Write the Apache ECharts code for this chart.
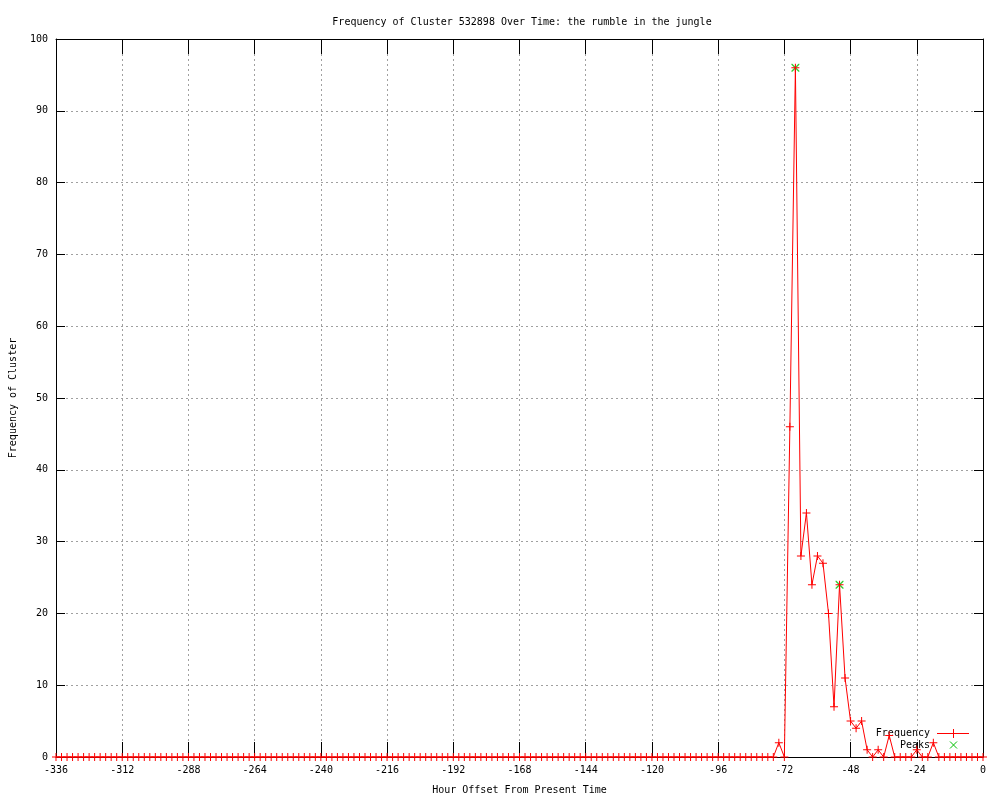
<!DOCTYPE html>
<html>
<head>
<meta charset="utf-8">
<script src="https://cdn.jsdelivr.net/npm/echarts@6/dist/echarts.min.js"></script>
<style>html,body{margin:0;padding:0;background:#fff}#c{width:1000px;height:800px}</style>
</head>
<body>
<div id="c"></div>
<script>
const hours = [
  -336,-334,-332,-330,-328,-326,-324,-322,-320,-318,-316,-314,-312,-310,-308,-306,-304,-302,-300,-298,
  -296,-294,-292,-290,-288,-286,-284,-282,-280,-278,-276,-274,-272,-270,-268,-266,-264,-262,-260,-258,
  -256,-254,-252,-250,-248,-246,-244,-242,-240,-238,-236,-234,-232,-230,-228,-226,-224,-222,-220,-218,
  -216,-214,-212,-210,-208,-206,-204,-202,-200,-198,-196,-194,-192,-190,-188,-186,-184,-182,-180,-178,
  -176,-174,-172,-170,-168,-166,-164,-162,-160,-158,-156,-154,-152,-150,-148,-146,-144,-142,-140,-138,
  -136,-134,-132,-130,-128,-126,-124,-122,-120,-118,-116,-114,-112,-110,-108,-106,-104,-102,-100,-98,
  -96,-94,-92,-90,-88,-86,-84,-82,-80,-78,-76,-74,-72,-70,-68,-66,-64,-62,-60,-58,
  -56,-54,-52,-50,-48,-46,-44,-42,-40,-38,-36,-34,-32,-30,-28,-26,-24,-22,-20,-18,
  -16,-14,-12,-10,-8,-6,-4,-2,0
];
const frequency = [
  0,0,0,0,0,0,0,0,0,0,0,0,0,0,0,0,0,0,0,0,
  0,0,0,0,0,0,0,0,0,0,0,0,0,0,0,0,0,0,0,0,
  0,0,0,0,0,0,0,0,0,0,0,0,0,0,0,0,0,0,0,0,
  0,0,0,0,0,0,0,0,0,0,0,0,0,0,0,0,0,0,0,0,
  0,0,0,0,0,0,0,0,0,0,0,0,0,0,0,0,0,0,0,0,
  0,0,0,0,0,0,0,0,0,0,0,0,0,0,0,0,0,0,0,0,
  0,0,0,0,0,0,0,0,0,0,0,2,0,46,96,28,34,24,28,27,
  20,7,24,11,5,4,5,1,0,1,0,3,0,0,0,0,1,0,0,2,
  0,0,0,0,0,0,0,0,0
];
const peakHours = [-68, -52];
const peakValues = [96, 24];
const xTicks = [-336,-312,-288,-264,-240,-216,-192,-168,-144,-120,-96,-72,-48,-24,0];
const yTicks = [0,10,20,30,40,50,60,70,80,90,100];

const freqData = hours.map((h, i) => [h, frequency[i]]);
const peakData = peakHours.map((h, i) => [h, peakValues[i]]);

const FONT = 'DejaVu Sans Mono';
const plusPath = 'path://M0,3.5H8V4.5H0Z M3.5,0H4.5V8H3.5Z';
const xPath = 'path://M0,0L1,0L8,7L8,8L7,8L0,1Z M7,0L8,0L8,1L1,8L0,8L0,7Z';
const GREEN = '#00c000';

const chart = echarts.init(document.getElementById('c'), null, {renderer: 'canvas'});
const axisLineStyle = {show: true, onZero: false, lineStyle: {color: '#000', width: 1}};
const xTickStyle = {show: true, inside: true, length: 15, lineStyle: {color: '#000'}};
const yTickStyle = {show: true, inside: true, length: 9, lineStyle: {color: '#000'}};
const gridLine = {show: true, lineStyle: {color: '#a0a0a0', type: [2, 3], width: 1}};
const labelStyle = {fontFamily: FONT, fontSize: 10, color: '#000', margin: 8};
const nameStyle = {fontFamily: FONT, fontSize: 10, color: '#000'};

chart.setOption({
  animation: false,
  backgroundColor: '#fff',
  title: {
    text: 'Frequency of Cluster 532898 Over Time: the rumble in the jungle',
    left: 517, top: 12, textAlign: 'center',
    textStyle: {fontFamily: FONT, fontSize: 10, fontWeight: 'normal', color: '#000'}
  },
  grid: {left: 55, right: 17, top: 39, bottom: 40},
  xAxis: [{
    type: 'value', min: xTicks[0], max: xTicks[xTicks.length - 1], interval: 24,
    position: 'bottom',
    name: 'Hour Offset From Present Time', nameLocation: 'middle', nameGap: 28,
    nameTextStyle: nameStyle,
    axisLine: axisLineStyle, axisTick: xTickStyle,
    axisLabel: labelStyle,
    splitLine: gridLine
  }, {
    type: 'value', min: xTicks[0], max: xTicks[xTicks.length - 1], interval: 24,
    position: 'top',
    axisLine: axisLineStyle, axisTick: xTickStyle,
    axisLabel: {show: false}, splitLine: {show: false}
  }],
  yAxis: [{
    type: 'value', min: yTicks[0], max: yTicks[yTicks.length - 1], interval: 10,
    position: 'left',
    name: 'Frequency of Cluster', nameLocation: 'middle', nameGap: 38, nameRotate: 90,
    nameTextStyle: nameStyle,
    axisLine: axisLineStyle, axisTick: yTickStyle,
    axisLabel: labelStyle,
    splitLine: gridLine
  }, {
    type: 'value', min: yTicks[0], max: yTicks[yTicks.length - 1], interval: 10,
    position: 'right',
    axisLine: axisLineStyle, axisTick: yTickStyle,
    axisLabel: {show: false}, splitLine: {show: false}
  }],
  series: [{
    name: 'Peaks', type: 'scatter', data: peakData,
    symbol: xPath, symbolSize: 8, z: 3,
    itemStyle: {color: GREEN}
  }, {
    name: 'Frequency', type: 'line', data: freqData, clip: false,
    symbol: plusPath, symbolSize: 8, showAllSymbol: true, z: 4,
    itemStyle: {color: '#ff0000'},
    lineStyle: {color: '#ff0000', width: 1}
  }],
  graphic: [
    {type: 'text', x: 930, y: 733, style: {text: 'Frequency', fill: '#000', font: '10px ' + FONT, align: 'right', verticalAlign: 'middle'}},
    {type: 'rect', shape: {x: 937, y: 733, width: 32, height: 1}, style: {fill: '#ff0000'}},
    {type: 'rect', shape: {x: 953, y: 729, width: 1, height: 9}, style: {fill: '#ff0000'}},
    {type: 'text', x: 930, y: 745, style: {text: 'Peaks', fill: '#000', font: '10px ' + FONT, align: 'right', verticalAlign: 'middle'}},
    {type: 'polyline', shape: {points: [[950, 741.5], [957, 748.5]]}, style: {stroke: GREEN, lineWidth: 1}},
    {type: 'polyline', shape: {points: [[957, 741.5], [950, 748.5]]}, style: {stroke: GREEN, lineWidth: 1}}
  ]
});
</script>
</body>
</html>
